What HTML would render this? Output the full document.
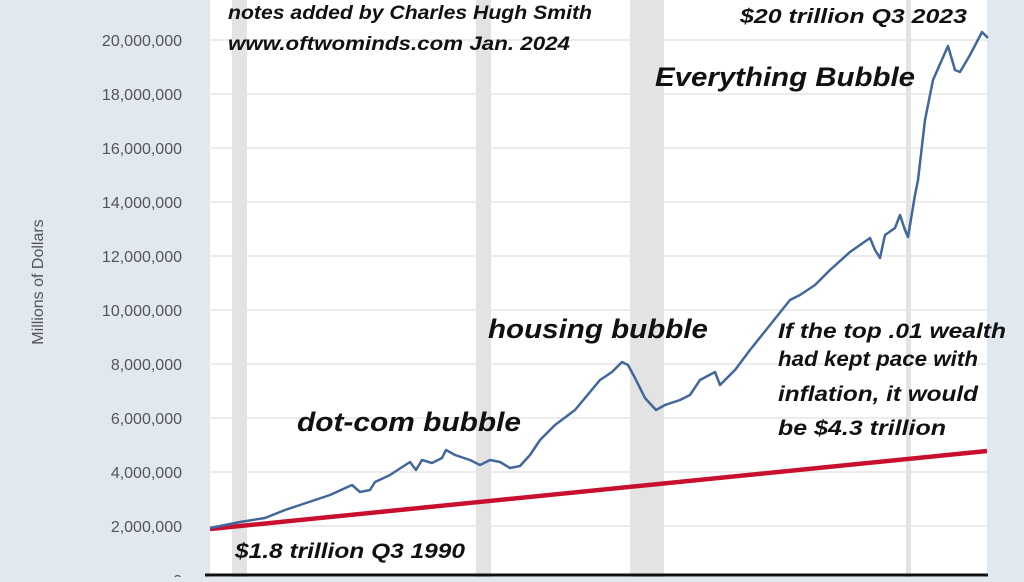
<!DOCTYPE html>
<html><head><style>
body{margin:0;width:1024px;height:577px;overflow:hidden;background:#e1e8f0;font-family:"Liberation Sans",sans-serif}
</style></head><body>
<svg width="1024" height="577" xmlns="http://www.w3.org/2000/svg">
<rect x="0" y="0" width="1024" height="577" fill="#e1e8f0"/>
<rect x="210" y="0" width="777" height="577" fill="#fff"/>
<g fill="#e3e3e3">
<rect x="232" y="0" width="15" height="577"/>
<rect x="476" y="0" width="15" height="577"/>
<rect x="630" y="0" width="34" height="577"/>
<rect x="906" y="0" width="5" height="577"/>
</g>
<g stroke="#e6e6e6" stroke-width="1.5">
<line x1="210" x2="987" y1="40" y2="40"/><line x1="210" x2="987" y1="94" y2="94"/>
<line x1="210" x2="987" y1="148" y2="148"/><line x1="210" x2="987" y1="202" y2="202"/>
<line x1="210" x2="987" y1="256" y2="256"/><line x1="210" x2="987" y1="310" y2="310"/>
<line x1="210" x2="987" y1="364" y2="364"/><line x1="210" x2="987" y1="418" y2="418"/>
<line x1="210" x2="987" y1="472" y2="472"/><line x1="210" x2="987" y1="526" y2="526"/>
</g>
<g fill="#555" font-size="16" text-anchor="end">
<text x="182" y="46">20,000,000</text><text x="182" y="100">18,000,000</text>
<text x="182" y="154">16,000,000</text><text x="182" y="208">14,000,000</text>
<text x="182" y="262">12,000,000</text><text x="182" y="316">10,000,000</text>
<text x="182" y="370">8,000,000</text><text x="182" y="424">6,000,000</text>
<text x="182" y="478">4,000,000</text><text x="182" y="532">2,000,000</text>
<text x="182" y="586">0</text>
</g>
<text x="43" y="282" transform="rotate(-90 43 282)" fill="#555" font-size="16" text-anchor="middle">Millions of Dollars</text>
<line x1="210" y1="529" x2="987" y2="451" stroke="#c8102e" stroke-width="4.5"/>
<polyline fill="none" stroke="#41679c" stroke-width="2.5" stroke-linejoin="round" points="210,528 240,522 265,518 285,510 300,505 330,495 352,485 360,492 370,490 375,482 390,475 410,462 416,470 422,460 432,463 442,458 446,450 455,455 470,460 480,465 490,460 500,462 510,468 520,466 530,455 540,440 555,425 575,410 600,380 612,372 622,362 628,365 635,378 645,398 656,410 665,405 680,400 690,395 700,380 715,372 720,385 735,370 750,350 770,325 790,300 800,295 815,285 830,270 850,252 860,245 870,238 875,250 880,258 885,235 895,228 900,215 905,230 908,237 915,195 918,180 925,120 933,80 948,46 955,70 960,72 970,55 982,32 988,38"/>
<line x1="205" y1="575" x2="988" y2="575" stroke="#111" stroke-width="3"/>
<g font-family="'Liberation Sans',sans-serif" font-weight="bold" font-style="italic" fill="#111" lengthAdjust="spacingAndGlyphs">
<text x="228" y="19" font-size="19" textLength="364" lengthAdjust="spacingAndGlyphs">notes added by Charles Hugh Smith</text>
<text x="228" y="50" font-size="19" textLength="342" lengthAdjust="spacingAndGlyphs">www.oftwominds.com  Jan. 2024</text>
<text x="740" y="23" font-size="20" textLength="227" lengthAdjust="spacingAndGlyphs">$20 trillion Q3 2023</text>
<text x="655" y="86" font-size="27" textLength="260" lengthAdjust="spacingAndGlyphs">Everything Bubble</text>
<text x="488" y="338" font-size="27" textLength="220" lengthAdjust="spacingAndGlyphs">housing bubble</text>
<text x="297" y="431" font-size="27" textLength="224" lengthAdjust="spacingAndGlyphs">dot-com bubble</text>
<text x="778" y="338" font-size="21" textLength="228" lengthAdjust="spacingAndGlyphs">If the top .01 wealth</text>
<text x="778" y="366" font-size="21" textLength="200" lengthAdjust="spacingAndGlyphs">had kept pace with</text>
<text x="778" y="401" font-size="21" textLength="200" lengthAdjust="spacingAndGlyphs">inflation, it would</text>
<text x="778" y="435" font-size="21" textLength="168" lengthAdjust="spacingAndGlyphs">be  $4.3 trillion</text>
<text x="235" y="558" font-size="21" textLength="230" lengthAdjust="spacingAndGlyphs">$1.8 trillion Q3 1990</text>
</g>
</svg>
</body></html>
